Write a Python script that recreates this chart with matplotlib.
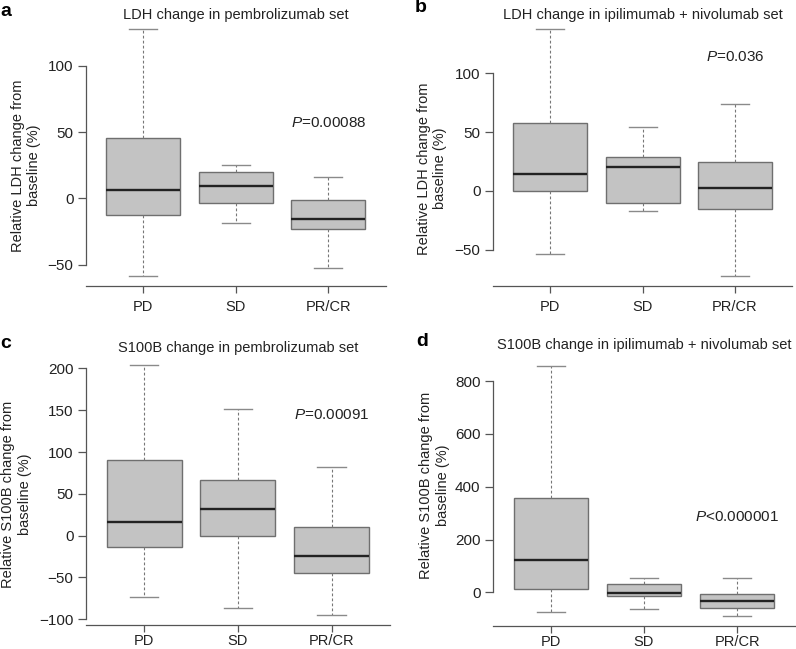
import numpy as np
import matplotlib.pyplot as plt

plt.rcParams['font.family'] = ['Liberation Sans', 'DejaVu Sans']
plt.rcParams['mathtext.fontset'] = 'custom'
plt.rcParams['mathtext.rm'] = 'Liberation Sans'
plt.rcParams['mathtext.it'] = 'Liberation Sans:italic'

# response groups
groups = ['PD', 'SD', 'PR/CR']

# box stats per group: [lower whisker, Q1, median, Q3, upper whisker]
ldh_pembro = [[-58.7, -12.9, 6.0, 45.3, 127.7],
              [-18.4, -3.3, 9.3, 20.1, 25.2],
              [-52.4, -23.4, -15.4, -1.5, 16.3]]
ldh_ipinivo = [[-53.8, 0.3, 14.2, 57.8, 137.4],
               [-16.7, -10.5, 20.4, 28.6, 54.1],
               [-72.5, -15.6, 2.5, 24.6, 73.7]]
s100b_pembro = [[-73.0, -13.9, 16.4, 90.2, 204.5],
                [-86.8, 0.0, 31.6, 67.0, 151.9],
                [-95.2, -45.0, -23.9, 10.0, 81.8]]
s100b_ipinivo = [[-74.6, 13.6, 122.0, 356.0, 857.0],
                 [-63.0, -15.0, -1.5, 30.0, 53.0],
                 [-88.6, -59.5, -33.0, -7.6, 55.3]]

p_values = [r'$\it{P}$=0.00088', r'$\it{P}$=0.036',
            r'$\it{P}$=0.00091', r'$\it{P}$<0.000001']
titles = ['LDH change in pembrolizumab set',
          'LDH change in ipilimumab + nivolumab set',
          'S100B change in pembrolizumab set',
          'S100B change in ipilimumab + nivolumab set']
ylabels = ['Relative LDH change from\nbaseline (%)',
           'Relative LDH change from\nbaseline (%)',
           'Relative S100B change from\nbaseline (%)',
           'Relative S100B change from\nbaseline (%)']
yticks = [[-50, 0, 50, 100], [-50, 0, 50, 100],
          [-100, -50, 0, 50, 100, 150, 200], [0, 200, 400, 600, 800]]

W, H = 796, 649
fig = plt.figure(figsize=(W / 100, H / 100), dpi=100)

TXT = '#222222'
AXC = '#555555'


def panel(box_px, stats, ticks, title, ylabel, ptext, p_y, title_dy, ylab_dx, ylab_dy, xpad):
    l, t, r, b = box_px
    ax = fig.add_axes([l / W, 1 - b / H, (r - l) / W, (b - t) / H])
    s = np.array(stats)
    bstats = [dict(whislo=row[0], q1=row[1], med=row[2], q3=row[3],
                   whishi=row[4], fliers=[]) for row in s]
    ax.bxp(bstats, positions=[1, 2, 3], widths=0.8, capwidths=0.3,
           patch_artist=True, showfliers=False, manage_ticks=False,
           boxprops=dict(facecolor='#c3c3c3', edgecolor='#6f6f6f', linewidth=1.0),
           medianprops=dict(color='#222222', linewidth=1.7),
           whiskerprops=dict(color='#777777', linewidth=0.8, linestyle=(0, (2.5, 2))),
           capprops=dict(color='#8a8a8a', linewidth=1.0))
    lo, hi = s[:, 0].min(), s[:, 4].max()
    pad = 0.04 * (hi - lo)
    ax.set_ylim(lo - pad, hi + pad)
    ax.set_xlim(0.38, 3.62)
    ax.set_yticks(ticks)
    ax.set_xticks([1, 2, 3], groups)
    for sp in ['top', 'right']:
        ax.spines[sp].set_visible(False)
    ax.spines['left'].set_bounds(ticks[0], ticks[-1])
    for sp in ['left', 'bottom']:
        ax.spines[sp].set_color(AXC)
        ax.spines[sp].set_linewidth(0.9)
    ax.tick_params(axis='y', length=6, width=0.9, color=AXC, labelsize=11,
                   labelcolor=TXT, pad=3)
    ax.tick_params(axis='x', length=5, width=0.9, color=AXC, labelsize=10.5,
                   labelcolor=TXT, pad=xpad)
    ax.patch.set_alpha(0)
    ax.annotate(title, xy=(0.5, 1), xycoords='axes fraction',
                xytext=(0, title_dy * 0.72), textcoords='offset points',
                ha='center', va='center', fontsize=10.5, color=TXT)
    ax.annotate(ylabel, xy=(0, 0.5), xycoords='axes fraction',
                xytext=(ylab_dx * 0.72, ylab_dy * 0.72), textcoords='offset points',
                ha='center', va='center', rotation=90, fontsize=10.5, color=TXT)
    ax.text(3.0, p_y, ptext, ha='center', va='center', fontsize=11, color=TXT)
    return ax


panel((86, 19.4, 385.7, 286), ldh_pembro, yticks[0], titles[0], ylabels[0],
      p_values[0], 57, 4.4, -60, -13, 5)
panel((493, 19.4, 792.3, 286), ldh_ipinivo, yticks[1], titles[1], ylabels[1],
      p_values[1], 113.6, 4.4, -61, -16, 5)
panel((86, 354.7, 389.6, 625.3), s100b_pembro, yticks[2], titles[2], ylabels[2],
      p_values[2], 144.4, 6.4, -69.5, -4, 1.5)
panel((493, 356.1, 795, 625.7), s100b_ipinivo, yticks[3], titles[3], ylabels[3],
      p_values[3], 286, 11, -58.5, 6, 1.5)

# panel letters
for letter, (x, y) in zip('abcd', [(6, 11), (421, 8), (6, 343), (422, 341)]):
    fig.text(x / W, 1 - y / H, letter, fontsize=14, fontweight='bold',
             ha='center', va='center', color='black')

fig.savefig('out.png', dpi=100)
